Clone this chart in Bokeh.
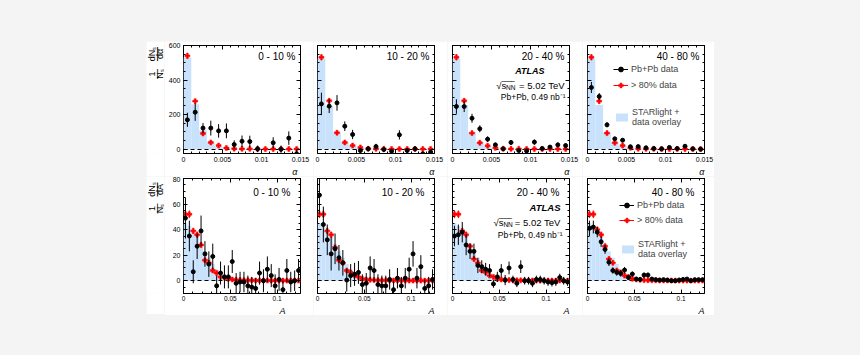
from math import pi
from bokeh.plotting import figure
from bokeh.models import (Range1d, FixedTicker, LinearAxis, Label, Legend, LegendItem,
                          CustomJSTickFormatter, Title)
from bokeh.layouts import row, column
from bokeh.embed import file_html
from bokeh.resources import INLINE

FONT = "Liberation Sans"

# ---------------- data ----------------
centrality_labels = ["0 - 10 %", "10 - 20 %", "20 - 40 %", "40 - 80 %"]

# alpha: 15 bins of width 0.001 in [0, 0.015]
alpha_edges = [0.000, 0.001, 0.002, 0.003, 0.004, 0.005, 0.006, 0.007, 0.008,
               0.009, 0.010, 0.011, 0.012, 0.013, 0.014, 0.015]

alpha_pbpb_0_10 = [170, 214, 122, 122, 106, 106, 27, 46, 44, 2, -42, 37, 0, 64, -27]
alpha_pbpb_0_10_err = [41, 50, 29, 43, 39, 43, 24, 33, 34, 19, 15, 32, 21, 39, 23]
alpha_pbpb_10_20 = [262, 249, 268, 133, 85, -8, 2, 15, -2, -12, 83, -8, 2, -27, -17]
alpha_pbpb_10_20_err = [65, 40, 45, 28, 27, 14, 14, 16, 15, 13, 27, 14, 15, 13, 13]
alpha_pbpb_20_40 = [247, 247, 179, 118, 58, 25, 2, 39, -8, -10, 41, 4, 12, 25, 21]
alpha_pbpb_20_40_err = [42, 32, 26, 20, 16, 12, 8, 13, 8, 8, 15, 8, 10, 13, 13]
alpha_pbpb_40_80 = [357, 305, 141, 60, 52, 14, 15, 8, 4, 2, 10, 4, 17, 2, 0]
alpha_pbpb_40_80_err = [32, 20, 14, 10, 10, 6, 6, 5, 5, 5, 6, 5, 8, 4, 4]

alpha_gt80_0_10 = [540, 278, 91, 39, 21, 7, 3, 2, 2, 1, 1, 1, 1, 1, 1]
alpha_gt80_10_20 = [532, 280, 95, 39, 21, 10, 3, 2, 2, 1, 1, 1, 1, 1, 1]
alpha_gt80_20_40 = [532, 280, 93, 37, 20, 8, 3, 2, 2, 1, 1, 1, 1, 1, 1]
alpha_gt80_40_80 = [532, 278, 93, 37, 21, 8, 3, 2, 2, 1, 1, 1, 1, 1, 1]
alpha_gt80_err = [18, 12, 7, 5, 4, 3, 2, 1, 1, 1, 1, 1, 1, 1, 1]

alpha_starlight_0_10 = [530, 260, 110, 45, 15, 8, 4, 3, 2, 1.5, 1, 1, 1, 1, 1]
alpha_starlight_10_20 = [525, 250, 98, 40, 20, 8, 4, 3, 2, 1.5, 1, 1, 1, 1, 1]
alpha_starlight_20_40 = [525, 255, 100, 42, 18, 8, 4, 3, 2, 1.5, 1, 1, 1, 1, 1]
alpha_starlight_40_80 = [525, 255, 100, 42, 18, 8, 4, 3, 2, 1.5, 1, 1, 1, 1, 1]

# A: 30 bins in [0, 0.125]
A_nbins = 30
A_max = 0.125
A_edges = [A_max * k / A_nbins for k in range(A_nbins + 1)]

A_pbpb_0_10 = [49, 35, 7, 27, 39, 21, 13, 19, -4, 6, 3, 3, 15, -2, -1, -1, -4, -5, -6, 6,
               0, 9, 4, -4, 1, -7, 8, -1, 0, 8]
A_pbpb_0_10_err = [16, 12, 9, 10, 12, 10, 10, 10, 8, 9, 9, 9, 9, 8, 8, 8, 8, 8, 8, 9,
                   9, 10, 9, 9, 9, 7, 9, 8, 8, 9]
A_pbpb_10_20 = [67, 44, 32, 21, 25, 18, 14, 0.5, 4, 5, 6.5, -3, -2, 10, 8, -3, -4, -4, 1, -7,
                2, -4, 2, 9, 21, 2, 11, -6, -4, 1]
A_pbpb_10_20_err = [15, 14, 12, 13, 12, 10, 10, 9, 9, 9, 9, 8, 8, 9, 9, 8, 8, 8, 8, 7,
                    8, 7, 8, 9, 10, 8, 9, 7, 7, 8]
A_pbpb_20_40 = [35, 36, 38, 28, 23, 23, 12, 11, 9, 8, -2.5, 3, 8, 0.5, 10, 1, -2, 11, 0, 0,
                -2, 1, 1, 0, -1, -1.5, -1, 2.5, 0, -1]
A_pbpb_20_40_err = [8, 8, 8, 8, 6, 6, 6, 5, 5, 5, 3, 4, 5, 4, 5, 3, 3, 5, 3, 3,
                    3, 3, 3, 3, 3, 3, 3, 3, 3, 3]
A_pbpb_40_80 = [41, 42, 38, 30.5, 24.5, 14.5, 8, 6.5, 5.7, 8.3, 2.6, 5.2, 1.3, 1, 4.4, 4.4,
                1.3, 0.8, 0.5, 0.8, 0.5, 0, 0, 0.5, 1, 1.3, 0, 0.8, 0.8, 0.8]
A_pbpb_40_80_err = [6, 5, 4, 4, 3.5, 3, 2.5, 2.5, 2.5, 2.5, 2, 2, 1.5, 1.5, 2, 2, 1.5, 1, 1, 1,
                    1, 1, 1, 1, 1, 1, 1, 1, 1, 1]

A_gt80_0_10 = [52, 52, 39, 36, 28, 16, 14, 8, 6, 3, 2.5, 1.5, 1, 0.7, 0.5, 0.4, 0.3, 0.3, 0.2, 0.2,
               0.2, 0.2, 0.1, 0.1, 0.1, 0.1, 0.1, 0.1, 0.1, 0.1]
A_gt80_10_20 = [52, 52, 39, 36, 26, 16, 14, 8, 6.5, 4, 3, 1.5, 1, 0.7, 0.5, 0.4, 0.3, 0.3, 0.2, 0.2,
                0.2, 0.2, 0.1, 0.1, 0.1, 0.1, 0.1, 0.1, 0.1, 0.1]
A_gt80_20_40 = [52, 52, 39, 36, 27, 17, 14, 8, 6.5, 4, 3, 1.5, 1, 0.7, 0.5, 0.4, 0.3, 0.3, 0.2, 0.2,
                0.2, 0.2, 0.1, 0.1, 0.1, 0.1, 0.1, 0.1, 0.1, 0.1]
A_gt80_40_80 = [52, 52, 40, 36, 27, 17, 14, 8, 6.5, 4, 3, 1.5, 1, 0.7, 0.5, 0.4, 0.3, 0.3, 0.2, 0.2,
                0.2, 0.2, 0.1, 0.1, 0.1, 0.1, 0.1, 0.1, 0.1, 0.1]
A_gt80_err = [3, 3, 2.5, 2.5, 2, 2, 1.5, 1.5, 1, 1, 1, 1, 1, 1, 1, 1, 1, 1, 1, 1,
              1, 1, 1, 1, 1, 1, 1, 1, 1, 1]

A_starlight_all = [45, 43, 39, 35, 29, 23, 18, 13, 9, 6, 4, 3, 2, 1.2, 0.8, 0.5, 0.4, 0.3, 0.2, 0.2,
                   0.1, 0.1, 0.1, 0.1, 0.1, 0.1, 0.1, 0.1, 0.1, 0.1]

alpha_ticks = [0, 0.005, 0.01, 0.015]
A_ticks = [0, 0.05, 0.1]
alpha_yticks = [0, 200, 400, 600]
A_yticks = [0, 20, 40, 60, 80]

# ---------------- layout constants (page pixels) ----------------
PAGE_X0, PAGE_Y0 = 146, 41
TITLE_W = 18                         # narrow strip holding the y-axis titles
FRAME_W = 117
LEFTS = [183, 317, 452, 587]          # frame left edges
BORDER_L = [19, 4, 5, 5]
BORDER_R = [13, 13, 13, 10]

ROWS = [
    dict(xr=(0, 0.015), yr=(-25, 600), T=45, H=108, top=4, bottom=23,
         xticks=alpha_ticks, xminor=[k * 0.001 for k in range(16)],
         yticks=alpha_yticks, yminor=[k * 50 for k in range(13)],
         edges=alpha_edges,
         pbpb=[alpha_pbpb_0_10, alpha_pbpb_10_20, alpha_pbpb_20_40, alpha_pbpb_40_80],
         pbpb_err=[alpha_pbpb_0_10_err, alpha_pbpb_10_20_err, alpha_pbpb_20_40_err, alpha_pbpb_40_80_err],
         gt80=[alpha_gt80_0_10, alpha_gt80_10_20, alpha_gt80_20_40, alpha_gt80_40_80],
         gt80_err=alpha_gt80_err,
         star=[alpha_starlight_0_10, alpha_starlight_10_20, alpha_starlight_20_40, alpha_starlight_40_80],
         xlabel="α", var="α", tick_font=7, tick_standoff=3),
    dict(xr=(0, A_max), yr=(-10, 80), T=178, H=115, top=2, bottom=21,
         xticks=A_ticks, xminor=[k * 0.01 for k in range(13)],
         yticks=A_yticks, yminor=[-10 + 5 * k for k in range(19)],
         edges=A_edges,
         pbpb=[A_pbpb_0_10, A_pbpb_10_20, A_pbpb_20_40, A_pbpb_40_80],
         pbpb_err=[A_pbpb_0_10_err, A_pbpb_10_20_err, A_pbpb_20_40_err, A_pbpb_40_80_err],
         gt80=[A_gt80_0_10, A_gt80_10_20, A_gt80_20_40, A_gt80_40_80],
         gt80_err=A_gt80_err,
         star=[A_starlight_all] * 4,
         xlabel="A", var="A", tick_font=6.5, tick_standoff=2),
]

BLUE = "#c9e2fb"
fmt = CustomJSTickFormatter(code="return String(tick)")


def lab(p, xr, yr, L, W, T, H, px, py, text, size, align="left", baseline="middle",
        style="normal", angle=0.0, color="black"):
    x0, x1 = xr
    y0, y1 = yr
    xd = x0 + (px - L) / W * (x1 - x0)
    yd = y1 - (py - T) / H * (y1 - y0)
    p.add_layout(Label(x=xd, y=yd, text=text, text_font=FONT, text_font_size=f"{size}px",
                       text_align=align, text_baseline=baseline, text_font_style=style,
                       angle=angle, text_color=color))


def style_axis(ax, ticks, minor, show_labels, font=7, standoff=3):
    ax.ticker = FixedTicker(ticks=ticks, minor_ticks=minor)
    ax.axis_line_color = None
    ax.major_tick_in = 4
    ax.major_tick_out = 0
    ax.minor_tick_in = 2
    ax.minor_tick_out = 0
    ax.major_tick_line_color = "black"
    ax.minor_tick_line_color = "black"
    ax.major_label_standoff = standoff if show_labels else 0
    if show_labels:
        ax.formatter = fmt
        ax.major_label_text_font = FONT
        ax.major_label_text_font_size = f"{font}px"
        ax.major_label_text_color = "black"
    else:
        ax.major_label_text_font_size = "0px"
        ax.major_label_text_color = None


def make_title_strip(r):
    cfg = ROWS[r]
    p = figure(frame_width=TITLE_W, frame_height=cfg["H"],
               x_range=Range1d(0, TITLE_W), y_range=Range1d(*cfg["yr"]),
               x_axis_type=None, y_axis_type=None,
               output_backend="svg", toolbar_location=None,
               min_border_left=0, min_border_right=0,
               min_border_top=cfg["top"], min_border_bottom=cfg["bottom"],
               background_fill_color="white", border_fill_color="white",
               outline_line_color=None)
    p.xgrid.visible = False
    p.ygrid.visible = False
    T = cfg["T"]
    args = ((0, TITLE_W), cfg["yr"], PAGE_X0, TITLE_W, T, cfg["H"])
    if r == 0:
        yc1, yc2 = T + 8.5, T + 28.5
    else:
        yc1, yc2 = T + 11, T + 30
    lab(p, *args, 151.5, yc1, "dNₛ", 9, align="center", angle=pi / 2)
    lab(p, *args, 155.5, yc1, "—", 14, align="center", angle=pi / 2)
    lab(p, *args, 159.5, yc1, "d" + cfg["var"], 9, align="center", angle=pi / 2)
    lab(p, *args, 151.5, yc2, "1", 9, align="center", angle=pi / 2)
    lab(p, *args, 155.5, yc2, "—", 10, align="center", angle=pi / 2)
    lab(p, *args, 159.5, yc2, "Nₛ", 9, align="center", angle=pi / 2)
    return p


def make_panel(r, col):
    cfg = ROWS[r]
    p = figure(frame_width=FRAME_W, frame_height=cfg["H"],
               x_range=Range1d(*cfg["xr"]), y_range=Range1d(*cfg["yr"]),
               output_backend="svg", toolbar_location=None,
               min_border_left=BORDER_L[col], min_border_right=BORDER_R[col],
               min_border_top=cfg["top"], min_border_bottom=cfg["bottom"],
               background_fill_color="white", border_fill_color="white",
               outline_line_color="black", outline_line_width=1)
    p.xgrid.visible = False
    p.ygrid.visible = False
    style_axis(p.xaxis[0], cfg["xticks"], cfg["xminor"], True, cfg["tick_font"], cfg["tick_standoff"])
    style_axis(p.yaxis[0], cfg["yticks"], cfg["yminor"], col == 0)
    top_ax = LinearAxis()
    right_ax = LinearAxis()
    style_axis(top_ax, cfg["xticks"], cfg["xminor"], False)
    style_axis(right_ax, cfg["yticks"], cfg["yminor"], False)
    p.add_layout(top_ax, "above")
    p.add_layout(right_ax, "right")

    # x-axis title, right aligned under the frame
    if r == 1 and col == 0:
        off = 15
    elif col == 0:
        off = 3
    else:
        off = 0
    p.add_layout(Title(text=cfg["xlabel"], align="right", offset=off, standoff=0,
                       text_font=FONT, text_font_size="9px", text_font_style="italic",
                       text_color="black"), "below")

    edges = cfg["edges"]
    lefts = edges[:-1]
    rights = edges[1:]
    centers = [(a + b) / 2 for a, b in zip(lefts, rights)]
    star = cfg["star"][col]
    blue_r = p.quad(left=lefts, right=rights, bottom=0, top=star,
                    fill_color=BLUE, line_color=None)
    p.hspan(y=[0], line_color="black", line_width=1, line_dash="4 3")

    g = cfg["gt80"][col]
    ge = cfg["gt80_err"]
    red_seg = p.segment(x0=centers, x1=centers, y0=[v - e for v, e in zip(g, ge)],
                        y1=[v + e for v, e in zip(g, ge)], line_color="red", line_width=1)
    red_pts = p.scatter(x=centers, y=g, marker="plus", size=5, fill_color="red",
                        line_color="red", line_width=0.5)

    d = cfg["pbpb"][col]
    de = cfg["pbpb_err"][col]
    blk_seg = p.segment(x0=centers, x1=centers, y0=[v - e for v, e in zip(d, de)],
                        y1=[v + e for v, e in zip(d, de)], line_color="black", line_width=1)
    blk_pts = p.scatter(x=centers, y=d, marker="circle", size=4, fill_color="black",
                        line_color="black")

    args = (cfg["xr"], cfg["yr"], LEFTS[col], FRAME_W, cfg["T"], cfg["H"])
    inset = 5 if r == 0 else 10
    dy = 11 if r == 0 else 14
    lab(p, *args, LEFTS[col] + FRAME_W - inset, cfg["T"] + dy, centrality_labels[col], 10,
        align="right")

    if col == 2:
        T = cfg["T"]
        if r == 0:
            lab(p, *args, 544, T + 25.7, "ATLAS", 9, align="right", style="bold italic")
            lab(p, *args, 495.7, T + 40, "√s", 9.5, align="left")
            lab(p, *args, 501.3, T + 40, "‾‾‾‾", 9.5, align="left")
            lab(p, *args, 505.6, T + 42, "NN", 6.5, align="left")
            lab(p, *args, 564.3, T + 40, "= 5.02 TeV", 9.5, align="right")
            lab(p, *args, 565, T + 51.7, "Pb+Pb, 0.49 nb⁻¹", 8.5, align="right")
        else:
            lab(p, *args, 560, T + 29, "ATLAS", 9.5, align="right", style="bold italic")
            lab(p, *args, 493, T + 44, "√s", 9.5, align="left")
            lab(p, *args, 498.6, T + 44, "‾‾‾‾", 9.5, align="left")
            lab(p, *args, 502.9, T + 46, "NN", 6.5, align="left")
            lab(p, *args, 560, T + 44, "= 5.02 TeV", 9.5, align="right")
            lab(p, *args, 562, T + 56, "Pb+Pb, 0.49 nb⁻¹", 8.5, align="right")

    if col == 3:
        if r == 0:
            loc1, loc2 = (26, 62), (27, 26)
        else:
            loc1, loc2 = (32, 67), (33, 34)
        leg1 = Legend(items=[LegendItem(label="Pb+Pb data", renderers=[blk_seg, blk_pts]),
                             LegendItem(label="> 80% data", renderers=[red_seg, red_pts])],
                      location=loc1, padding=0, margin=0, spacing=4 if r == 0 else 3,
                      glyph_width=15, glyph_height=12, label_height=12, label_standoff=3,
                      label_text_font=FONT, label_text_font_size="9px",
                      border_line_color=None, background_fill_alpha=0)
        leg2 = Legend(items=[LegendItem(label="STARlight +\ndata overlay", renderers=[blue_r])],
                      location=loc2, padding=0, margin=0,
                      glyph_width=15, glyph_height=10, label_height=12, label_standoff=3,
                      label_text_font=FONT, label_text_font_size="9px",
                      border_line_color=None, background_fill_alpha=0)
        p.add_layout(leg1)
        p.add_layout(leg2)
    return p


rows = []
for r in range(2):
    rows.append(row(make_title_strip(r), *[make_panel(r, c) for c in range(4)]))

layout = column(*rows, margin=(PAGE_Y0, 0, 0, PAGE_X0))

html = file_html(layout, INLINE)
i = html.rfind("<body")
j = html.find(">", i) + 1
html = html[:j] + "<style>html, body { background-color: #f4f4f4; }</style>" + html[j:]
open("out.html", "w").write(html)
